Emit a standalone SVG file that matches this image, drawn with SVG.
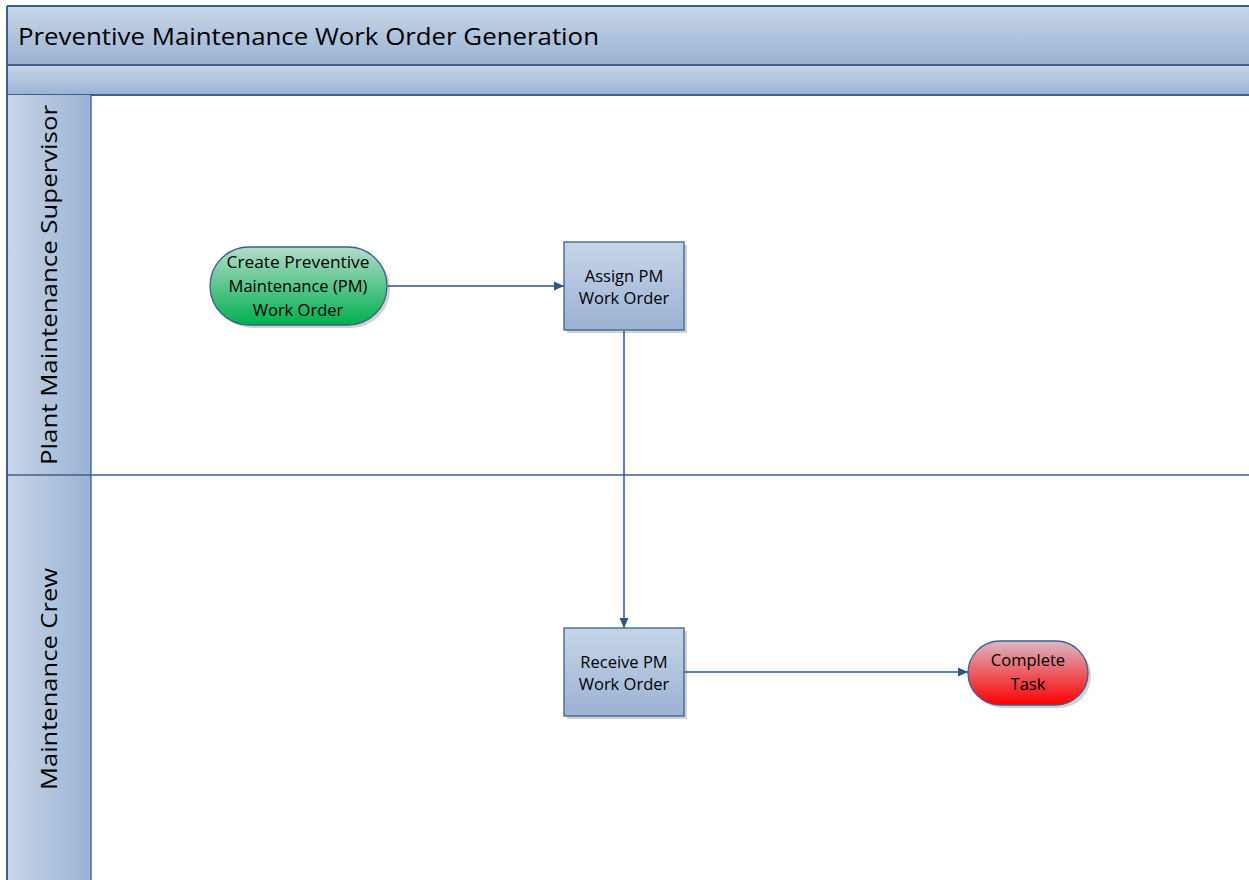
<svg xmlns="http://www.w3.org/2000/svg" width="1249" height="880" viewBox="0 0 1249 880">
<defs>
<linearGradient id="hdrV" x1="0" y1="0" x2="0" y2="1">
<stop offset="0" stop-color="#C8D6E8"/>
<stop offset="1" stop-color="#9AB3D4"/>
</linearGradient>
<linearGradient id="hdrH" x1="0" y1="0" x2="1" y2="0">
<stop offset="0" stop-color="#C8D6E8"/>
<stop offset="1" stop-color="#9AB3D4"/>
</linearGradient>
<linearGradient id="boxG" x1="0" y1="0" x2="0" y2="1">
<stop offset="0" stop-color="#C7D5E8"/>
<stop offset="1" stop-color="#9BB2D3"/>
</linearGradient>
<linearGradient id="greenG" x1="0" y1="0" x2="0" y2="1">
<stop offset="0" stop-color="#B3DCC9"/>
<stop offset="1" stop-color="#00B050"/>
</linearGradient>
<linearGradient id="redG" x1="0" y1="0" x2="0" y2="1">
<stop offset="0" stop-color="#D9B8C4"/>
<stop offset="1" stop-color="#FF0000"/>
</linearGradient>
<marker id="arr" markerWidth="10" markerHeight="10" refX="10" refY="5" orient="auto" markerUnits="userSpaceOnUse">
<path d="M0,0.5 L10,5 L0,9.5 Z" fill="#2F5486"/>
</marker>
</defs>
<style>
.frame{stroke:#3D5F8F;stroke-width:2;}
.lbl{font-family:"Open Sans","Liberation Sans",sans-serif;fill:#000;}
.node{font-family:"Open Sans","Liberation Sans",sans-serif;font-size:16.5px;fill:#000;text-anchor:middle;}
.conn{stroke:#2F5486;stroke-width:1.5;fill:none;marker-end:url(#arr);}
.shape{stroke:#3D5F8F;stroke-width:1.3;}
.shadow{fill:#000;opacity:0.18;}
</style>
<rect width="1249" height="880" fill="#FFFFFF"/>
<g id="pool">
<rect x="7" y="6" width="1250" height="59" fill="url(#hdrV)"/>
<rect x="7" y="65" width="1250" height="30" fill="url(#hdrV)"/>
<line class="frame" x1="7" y1="6" x2="1249" y2="6"/>
<line class="frame" x1="7" y1="65" x2="1249" y2="65"/>
<line class="frame" x1="7" y1="95" x2="1249" y2="95"/>
<text class="lbl" x="18" y="45" font-size="23" textLength="581" lengthAdjust="spacingAndGlyphs">Preventive Maintenance Work Order Generation</text>
</g>
<g id="lane1">
<rect x="7" y="95" width="84" height="380" fill="url(#hdrH)"/>
<text class="lbl" transform="translate(57,285) rotate(-90)" font-size="21" text-anchor="middle" textLength="360" lengthAdjust="spacingAndGlyphs">Plant Maintenance Supervisor</text>
</g>
<g id="lane2">
<rect x="7" y="475" width="84" height="410" fill="url(#hdrH)"/>
<text class="lbl" transform="translate(57,679) rotate(-90)" font-size="21" text-anchor="middle" textLength="222" lengthAdjust="spacingAndGlyphs">Maintenance Crew</text>
</g>
<g id="lane-lines">
<line class="frame" x1="7" y1="6" x2="7" y2="880"/>
<line stroke="#3D5F8F" stroke-width="1.3" x1="91" y1="95" x2="91" y2="880"/>
<line stroke="#3D5F8F" stroke-width="1.3" x1="7" y1="475" x2="1249" y2="475"/>
</g>
<g id="connectors">
<line class="conn" x1="388" y1="286" x2="564" y2="286"/>
<line class="conn" x1="624" y1="331" x2="624" y2="628"/>
<line class="conn" x1="685" y1="672" x2="968" y2="672"/>
</g>
<g id="start">
<rect class="shadow" x="213" y="250" width="177" height="78" rx="39"/>
<rect class="shape" x="210" y="247" width="177" height="78" rx="39" fill="url(#greenG)"/>
<text class="node" x="298" y="268" textLength="143" lengthAdjust="spacingAndGlyphs">Create Preventive</text>
<text class="node" x="298" y="292">Maintenance (PM)</text>
<text class="node" x="298" y="316">Work Order</text>
</g>
<g id="assign">
<rect class="shadow" x="567" y="245" width="120" height="88"/>
<rect class="shape" x="564" y="242" width="120" height="88" fill="url(#boxG)"/>
<text class="node" x="624" y="282">Assign PM</text>
<text class="node" x="624" y="304">Work Order</text>
</g>
<g id="receive">
<rect class="shadow" x="567" y="631" width="120" height="88"/>
<rect class="shape" x="564" y="628" width="120" height="88" fill="url(#boxG)"/>
<text class="node" x="624" y="668">Receive PM</text>
<text class="node" x="624" y="690">Work Order</text>
</g>
<g id="complete">
<rect class="shadow" x="971" y="644" width="120" height="64" rx="32"/>
<rect class="shape" x="968" y="641" width="120" height="64" rx="32" fill="url(#redG)"/>
<text class="node" x="1028" y="666">Complete</text>
<text class="node" x="1028" y="690">Task</text>
</g>
</svg>
